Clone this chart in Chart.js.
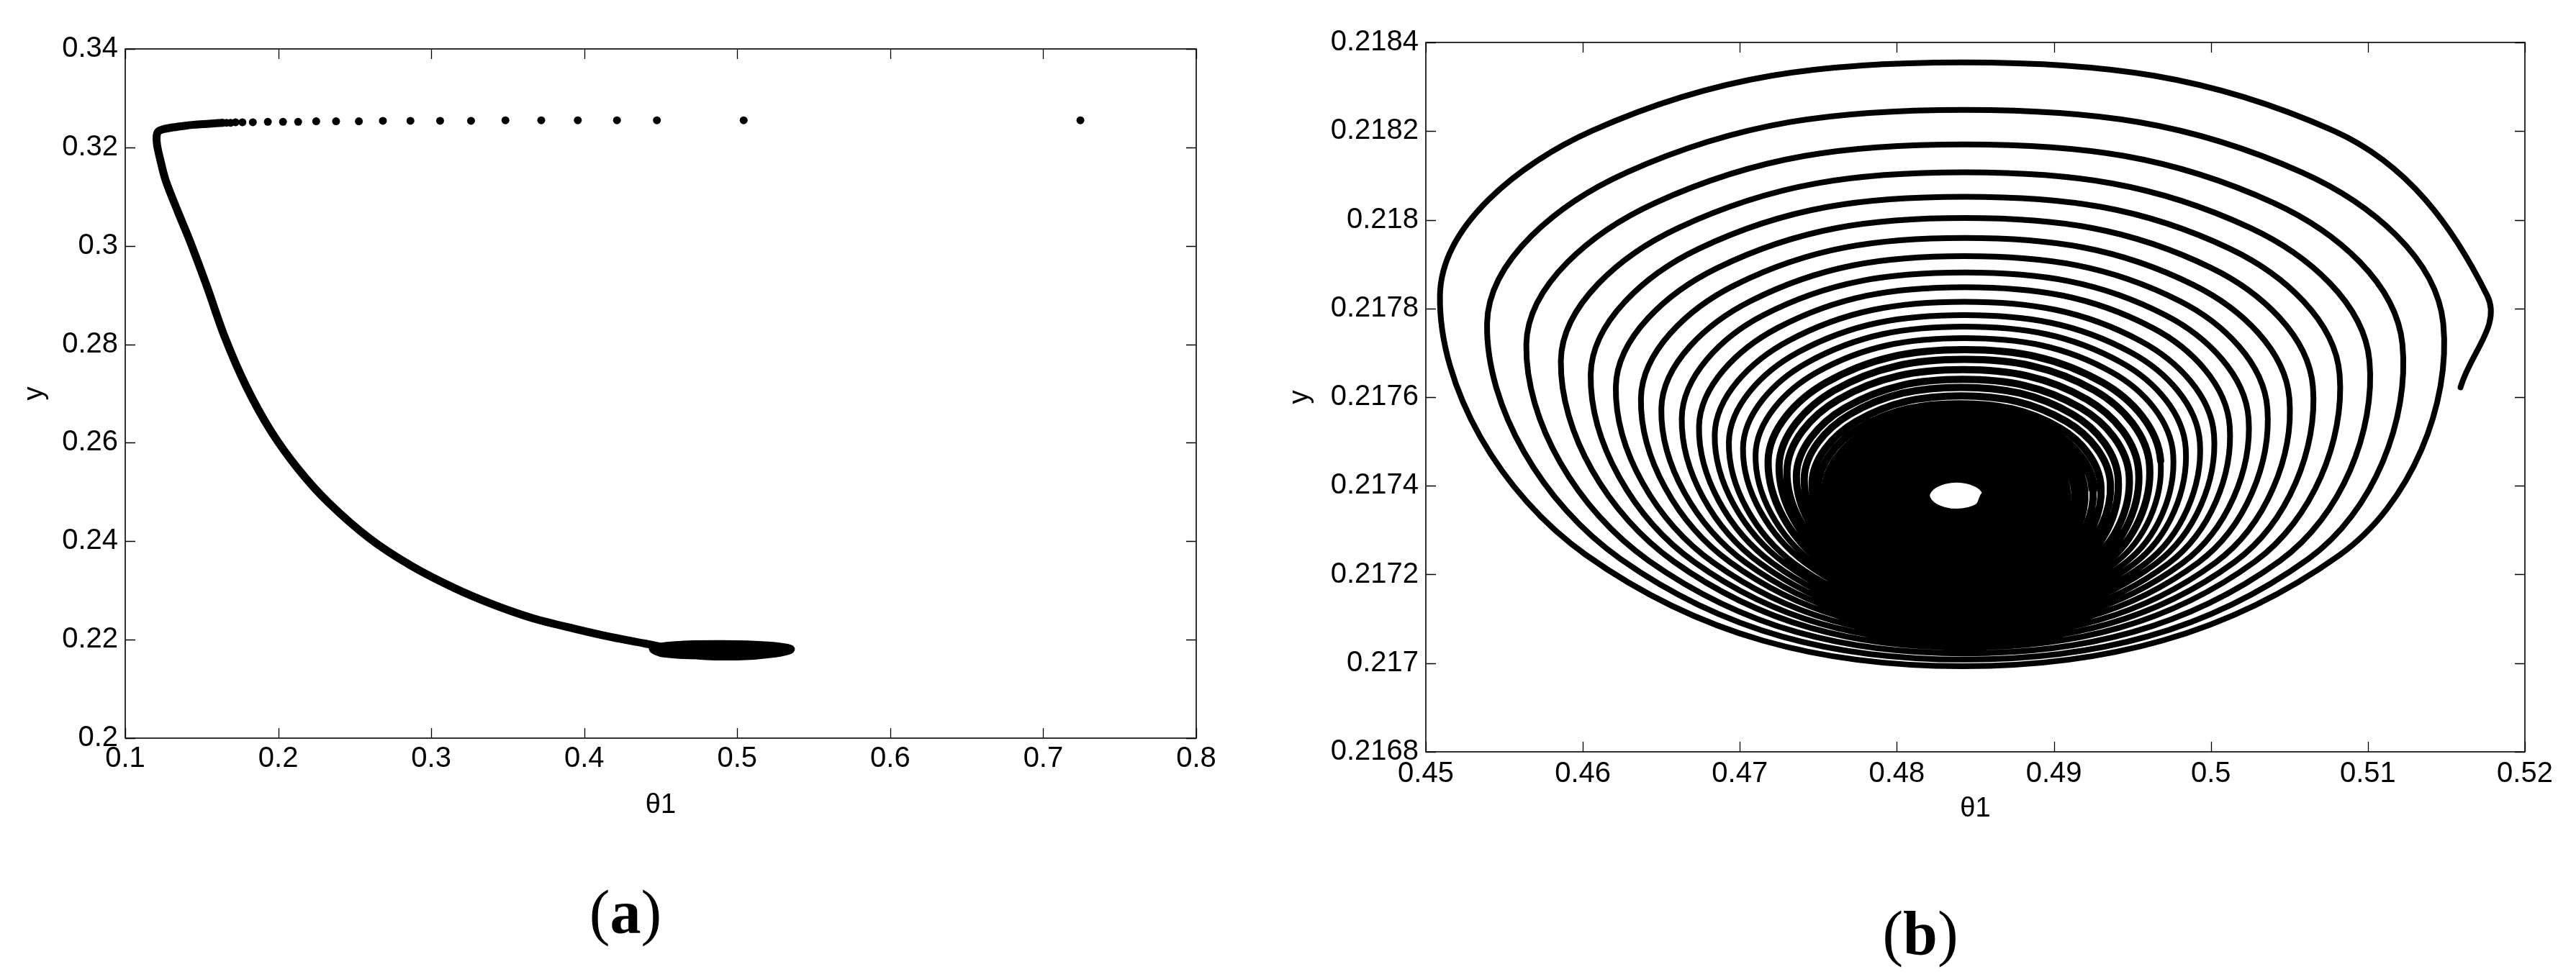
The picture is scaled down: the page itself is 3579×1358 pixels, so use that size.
<!DOCTYPE html>
<html><head><meta charset="utf-8">
<script src="https://cdn.jsdelivr.net/npm/chart.js@4.4.1/dist/chart.umd.min.js"></script>
<style>
html,body{margin:0;padding:0;background:#fff;}
body{width:3579px;height:1358px;position:relative;overflow:hidden;}
.panel{position:absolute;top:0;height:1358px;}
#pa{left:0;width:1780px;}
#pb{left:1780px;width:1799px;}
.cap{position:absolute;font-family:"Liberation Serif","Times New Roman",serif;font-size:86px;color:#000;line-height:1;white-space:nowrap;transform:translate(-50%,-50%);}
.cap b{font-weight:bold;}
</style></head><body>
<div class="panel" id="pa"><canvas id="ca" width="1780" height="1358"></canvas></div>
<div class="panel" id="pb"><canvas id="cb" width="1799" height="1358"></canvas></div>
<div class="cap" style="left:869px;top:1268px">(<b>a</b>)</div>
<div class="cap" style="left:2668px;top:1297px">(<b>b</b>)</div>
<script>
// ---------- axis ticks ----------
const xTicksA = [0.1,0.2,0.3,0.4,0.5,0.6,0.7,0.8];
const xTickLabelsA = ['0.1','0.2','0.3','0.4','0.5','0.6','0.7','0.8'];
const yTicksA = [0.2,0.22,0.24,0.26,0.28,0.3,0.32,0.34];
const yTickLabelsA = ['0.2','0.22','0.24','0.26','0.28','0.3','0.32','0.34'];
const xTicksB = [0.45,0.46,0.47,0.48,0.49,0.5,0.51,0.52];
const xTickLabelsB = ['0.45','0.46','0.47','0.48','0.49','0.5','0.51','0.52'];
const yTicksB = [0.2168,0.217,0.2172,0.2174,0.2176,0.2178,0.218,0.2182,0.2184];
const yTickLabelsB = ['0.2168','0.217','0.2172','0.2174','0.2176','0.2178','0.218','0.2182','0.2184'];
const xTitle = 'θ1';
const yTitle = 'y';

// ---------- panel (a): isolated transient points ----------
const dotsAX = [0.7243,0.5042,0.4475,0.4214,0.3958,0.3719,0.3485,0.3260,0.3058,0.2864,0.2684,0.2527,0.2378,0.2248,0.2130,0.2031,0.1932,0.1834,0.1766,0.1721,0.1689,0.1662,0.1636];
const dotsAY = [0.3255,0.3255,0.3255,0.3255,0.3255,0.3255,0.3255,0.3254,0.3254,0.3254,0.3254,0.3253,0.3253,0.3253,0.3252,0.3252,0.3252,0.3251,0.3251,0.3251,0.3250,0.3250,0.3250];

// ---------- panel (a): slow manifold curve ----------
const curveAX = [0.1636,0.155,0.145,0.137,0.130,0.125,0.1215,0.1205,0.1208,0.1225,0.1263,0.1342,0.1420,0.1531,0.165,0.179,0.195,0.213,0.233,0.260,0.287,0.315,0.340,0.367,0.394,0.418,0.440];
const curveAY = [0.3250,0.3248,0.3246,0.3243,0.3240,0.3237,0.3232,0.3222,0.3205,0.3180,0.3134,0.3071,0.3012,0.2920,0.2815,0.2715,0.2625,0.2547,0.2478,0.2405,0.2350,0.2305,0.2272,0.2243,0.2222,0.2205,0.2192];

// ---------- panel (a): large first oscillations before the spiral of (b) ----------
const loopsAX = [0.440,0.452,0.470,0.500,0.525,0.535,0.520,0.490,0.460,0.445,0.452,0.480,0.510,0.527];
const loopsAY = [0.2192,0.2184,0.2169,0.2166,0.2172,0.2181,0.2188,0.2191,0.2189,0.2182,0.2172,0.2168,0.2170,0.2178];

// ---------- panel (b): spiral, turns 0-13 (R, TR, T, TL, L, BL, B, BR per turn) ----------
const spiralOuterX = [
 0.5159,
 0.5176,0.5078,0.4842,0.4606,0.4509,0.4602,0.4842,0.5082,
 0.5148,0.5058,0.4843,0.4628,0.4539,0.4624,0.4843,0.5062,
 0.5122,0.5040,0.4843,0.4646,0.4564,0.4642,0.4843,0.5044,
 0.5101,0.5025,0.4843,0.4661,0.4586,0.4658,0.4843,0.5028,
 0.5082,0.5012,0.4843,0.4674,0.4605,0.4671,0.4843,0.5015,
 0.5065,0.5000,0.4843,0.4686,0.4621,0.4683,0.4843,0.5003,
 0.5050,0.4989,0.4843,0.4697,0.4637,0.4694,0.4843,0.4992,
 0.5036,0.4980,0.4843,0.4707,0.4650,0.4704,0.4843,0.4982,
 0.5024,0.4971,0.4843,0.4715,0.4663,0.4713,0.4843,0.4973,
 0.5012,0.4963,0.4843,0.4724,0.4674,0.4721,0.4843,0.4965,
 0.5002,0.4955,0.4843,0.4731,0.4684,0.4729,0.4843,0.4958,
 0.4993,0.4949,0.4843,0.4737,0.4693,0.4735,0.4843,0.4951,
 0.4984,0.4943,0.4843,0.4743,0.4702,0.4742,0.4843,0.4945,
 0.4976,0.4937,0.4843,0.4749,0.4710,0.4747,0.4843,0.4939,
 0.4968
];
const spiralOuterY = [
 0.217622,
 0.217829,0.218201,0.218355,0.218201,0.217829,0.217244,0.216993,0.217244,
 0.217766,0.218107,0.218248,0.218107,0.217766,0.217235,0.217008,0.217235,
 0.217719,0.218038,0.218170,0.218038,0.217719,0.217231,0.217022,0.217231,
 0.217682,0.217982,0.218107,0.217982,0.217682,0.217229,0.217035,0.217229,
 0.217651,0.217935,0.218052,0.217935,0.217651,0.217228,0.217047,0.217228,
 0.217623,0.217892,0.218004,0.217892,0.217623,0.217227,0.217058,0.217227,
 0.217597,0.217853,0.217959,0.217853,0.217597,0.217227,0.217068,0.217227,
 0.217574,0.217817,0.217918,0.217817,0.217574,0.217226,0.217077,0.217226,
 0.217552,0.217785,0.217881,0.217785,0.217552,0.217225,0.217085,0.217225,
 0.217534,0.217756,0.217848,0.217756,0.217534,0.217225,0.217093,0.217225,
 0.217515,0.217727,0.217815,0.217727,0.217515,0.217224,0.217100,0.217224,
 0.217498,0.217701,0.217785,0.217701,0.217498,0.217224,0.217107,0.217224,
 0.217484,0.217678,0.217759,0.217678,0.217484,0.217225,0.217114,0.217225,
 0.217470,0.217656,0.217733,0.217656,0.217470,0.217226,0.217121,0.217226,
 0.217456
];
// ---------- panel (b): spiral, turns 14-20 ----------
const spiralMiddleX = [
 0.4968,0.4931,0.4843,0.4755,0.4718,0.4753,0.4843,0.4933,
 0.4961,0.4926,0.4843,0.4760,0.4725,0.4758,0.4843,0.4928,
 0.4954,0.4921,0.4842,0.4763,0.4730,0.4761,0.4842,0.4923,
 0.4948,0.4917,0.4842,0.4767,0.4736,0.4766,0.4842,0.4918,
 0.4941,0.4912,0.4841,0.4770,0.4741,0.4769,0.4841,0.4913,
 0.4936,0.4908,0.4841,0.4774,0.4746,0.4773,0.4841,0.4909,
 0.4930,0.4904,0.4840,0.4776,0.4750,0.4775,0.4840,0.4905,
 0.4925
];
const spiralMiddleY = [
 0.217456,0.217633,0.217707,0.217633,0.217456,0.217226,0.217128,0.217226,
 0.217445,0.217615,0.217685,0.217615,0.217445,0.217228,0.217135,0.217228,
 0.217433,0.217595,0.217662,0.217595,0.217433,0.217229,0.217142,0.217229,
 0.217422,0.217576,0.217640,0.217576,0.217422,0.217231,0.217149,0.217231,
 0.217415,0.217561,0.217622,0.217561,0.217415,0.217234,0.217157,0.217234,
 0.217406,0.217545,0.217603,0.217545,0.217406,0.217237,0.217165,0.217237,
 0.217398,0.217530,0.217585,0.217530,0.217398,0.217240,0.217173,0.217240,
 0.217393
];
// ---------- panel (b): spiral, dense turns 21-34 around the focus ----------
const spiralInnerX = [
 0.4925,0.4900,0.4840,0.4780,0.4755,0.4779,0.4840,0.4901,
 0.4919,0.4896,0.4839,0.4782,0.4759,0.4781,0.4839,0.4897,
 0.4914,0.4892,0.4839,0.4786,0.4764,0.4785,0.4839,0.4893,
 0.4908,0.4888,0.4838,0.4789,0.4768,0.4788,0.4838,0.4888,
 0.4903,0.4884,0.4838,0.4792,0.4773,0.4791,0.4838,0.4885,
 0.4898,0.4880,0.4838,0.4796,0.4778,0.4795,0.4838,0.4881,
 0.4893,0.4877,0.4838,0.4799,0.4783,0.4798,0.4838,0.4878,
 0.4888,0.4873,0.4838,0.4803,0.4788,0.4802,0.4838,0.4874,
 0.4883,0.4870,0.4838,0.4806,0.4793,0.4806,0.4838,0.4870,
 0.4878,0.4866,0.4838,0.4810,0.4798,0.4809,0.4838,0.4867,
 0.4873,0.4863,0.4838,0.4813,0.4803,0.4813,0.4838,0.4863,
 0.4868,0.4859,0.4838,0.4817,0.4808,0.4816,0.4838,0.4860,
 0.4863,0.4856,0.4838,0.4820,0.4813,0.4820,0.4838,0.4856,
 0.4858,0.4852,0.4838,0.4824,0.4818,0.4824,0.4838,0.4852,
 0.4856
];
const spiralInnerY = [
 0.217393,0.217518,0.217570,0.217518,0.217393,0.217245,0.217182,0.217245,
 0.217389,0.217508,0.217557,0.217508,0.217389,0.217250,0.217191,0.217250,
 0.217385,0.217498,0.217545,0.217498,0.217385,0.217255,0.217200,0.217255,
 0.217382,0.217489,0.217533,0.217489,0.217382,0.217262,0.217210,0.217262,
 0.217380,0.217480,0.217521,0.217480,0.217380,0.217268,0.217220,0.217268,
 0.217377,0.217470,0.217508,0.217470,0.217377,0.217275,0.217231,0.217275,
 0.217375,0.217460,0.217495,0.217460,0.217375,0.217283,0.217243,0.217283,
 0.217374,0.217451,0.217483,0.217451,0.217374,0.217291,0.217256,0.217291,
 0.217373,0.217442,0.217470,0.217442,0.217373,0.217301,0.217270,0.217301,
 0.217374,0.217433,0.217458,0.217433,0.217374,0.217312,0.217285,0.217312,
 0.217374,0.217425,0.217446,0.217425,0.217374,0.217322,0.217300,0.217322,
 0.217376,0.217419,0.217437,0.217419,0.217376,0.217332,0.217312,0.217332,
 0.217377,0.217413,0.217428,0.217413,0.217377,0.217341,0.217325,0.217341,
 0.217378,0.217406,0.217418,0.217406,0.217378,0.217350,0.217338,0.217350,
 0.217376
];

// ---------- helpers ----------
const pts = (xs, ys) => xs.map((x, i) => ({x: x, y: ys[i]}));
const FONT = {family: '"Liberation Sans", Arial, Helvetica, sans-serif', size: 40};

// the three spiral pieces join end-to-start into one continuous trajectory
const spiralX = spiralOuterX.concat(spiralMiddleX.slice(1), spiralInnerX.slice(1));
const spiralY = spiralOuterY.concat(spiralMiddleY.slice(1), spiralInnerY.slice(1));
const nOuter = spiralOuterX.length - 1;
const nMiddle = nOuter + spiralMiddleX.length - 1;

const framePlugin = {
  id: 'frame',
  afterDatasetsDraw(chart) {
    const {ctx, chartArea: a, scales: {x, y}} = chart;
    const L = 14;
    ctx.save();
    ctx.strokeStyle = '#000';
    ctx.lineWidth = 1.6;
    ctx.strokeRect(a.left, a.top, a.right - a.left, a.bottom - a.top);
    ctx.lineWidth = 1.3;
    ctx.beginPath();
    x.ticks.forEach(t => {
      const p = Math.round(x.getPixelForValue(t.value)) + 0.5;
      ctx.moveTo(p, a.bottom); ctx.lineTo(p, a.bottom - L);
      ctx.moveTo(p, a.top); ctx.lineTo(p, a.top + L);
    });
    y.ticks.forEach(t => {
      const p = Math.round(y.getPixelForValue(t.value)) + 0.5;
      ctx.moveTo(a.left, p); ctx.lineTo(a.left + L, p);
      ctx.moveTo(a.right, p); ctx.lineTo(a.right - L, p);
    });
    ctx.stroke();
    ctx.restore();
  }
};

function makeChart(canvasId, o) {
  return new Chart(document.getElementById(canvasId), {
    type: 'scatter',
    data: {datasets: o.datasets},
    plugins: [framePlugin],
    options: {
      responsive: false,
      animation: false,
      devicePixelRatio: 1,
      layout: {padding: o.padding},
      plugins: {legend: {display: false}, tooltip: {enabled: false}},
      elements: {point: {radius: 0}},
      scales: {
        x: {
          type: 'linear', min: o.xTicks[0], max: o.xTicks[o.xTicks.length - 1],
          afterBuildTicks: s => { s.ticks = o.xTicks.map(v => ({value: v})); },
          afterFit: s => { s.height = o.xAxisH; },
          grid: {display: false, drawTicks: false},
          border: {display: false},
          ticks: {autoSkip: false, maxRotation: 0, padding: o.xTickPad, color: '#000', font: FONT,
                  callback: (v, i) => o.xLabels[i]},
          title: {display: true, text: xTitle, color: '#000', font: {family: FONT.family, size: 38}, padding: {top: 0, bottom: o.xTitlePad}}
        },
        y: {
          type: 'linear', min: o.yTicks[0], max: o.yTicks[o.yTicks.length - 1],
          afterBuildTicks: s => { s.ticks = o.yTicks.map(v => ({value: v})); },
          afterFit: s => { s.width = o.yAxisW; },
          grid: {display: false, drawTicks: false},
          border: {display: false},
          ticks: {autoSkip: false, padding: 10, color: '#000', font: FONT,
                  callback: (v, i) => o.yLabels[i]},
          title: {display: true, text: yTitle, color: '#000', font: {family: FONT.family, size: 38}, padding: {top: o.yTitlePad, bottom: 0}}
        }
      }
    }
  });
}

const lineDS = (data, w, t) => ({data: data, showLine: true, borderColor: '#000', borderWidth: w,
  tension: t, pointRadius: 0, borderCapStyle: 'round', borderJoinStyle: 'round', fill: false});

makeChart('ca', {
  padding: {left: 0, top: 68, right: 118, bottom: 212},
  yAxisW: 174, xAxisH: 120, xTickPad: 5, xTitlePad: 4, yTitlePad: 26,
  xTicks: xTicksA, xLabels: xTickLabelsA, yTicks: yTicksA, yLabels: yTickLabelsA,
  datasets: [
    {data: pts(dotsAX, dotsAY), showLine: false, pointRadius: 5.5, pointBackgroundColor: '#000', pointBorderWidth: 0},
    lineDS(pts(curveAX, curveAY), 11, 0.3),
    lineDS(pts(loopsAX, loopsAY), 11, 0.38),
    lineDS(pts(spiralX, spiralY), 11, 0.38)
  ]
});

const spiralB = lineDS(pts(spiralX, spiralY), 8, 0.38);
spiralB.segment = {borderWidth: c => (c.p0DataIndex < nOuter ? 8 : (c.p0DataIndex < nMiddle ? 10 : 13))};

makeChart('cb', {
  padding: {left: 0, top: 59, right: 71, bottom: 193},
  yAxisW: 201, xAxisH: 120, xTickPad: 7, xTitlePad: 18, yTitlePad: 4,
  xTicks: xTicksB, xLabels: xTickLabelsB, yTicks: yTicksB, yLabels: yTickLabelsB,
  datasets: [spiralB]
});
</script>
</body></html>
